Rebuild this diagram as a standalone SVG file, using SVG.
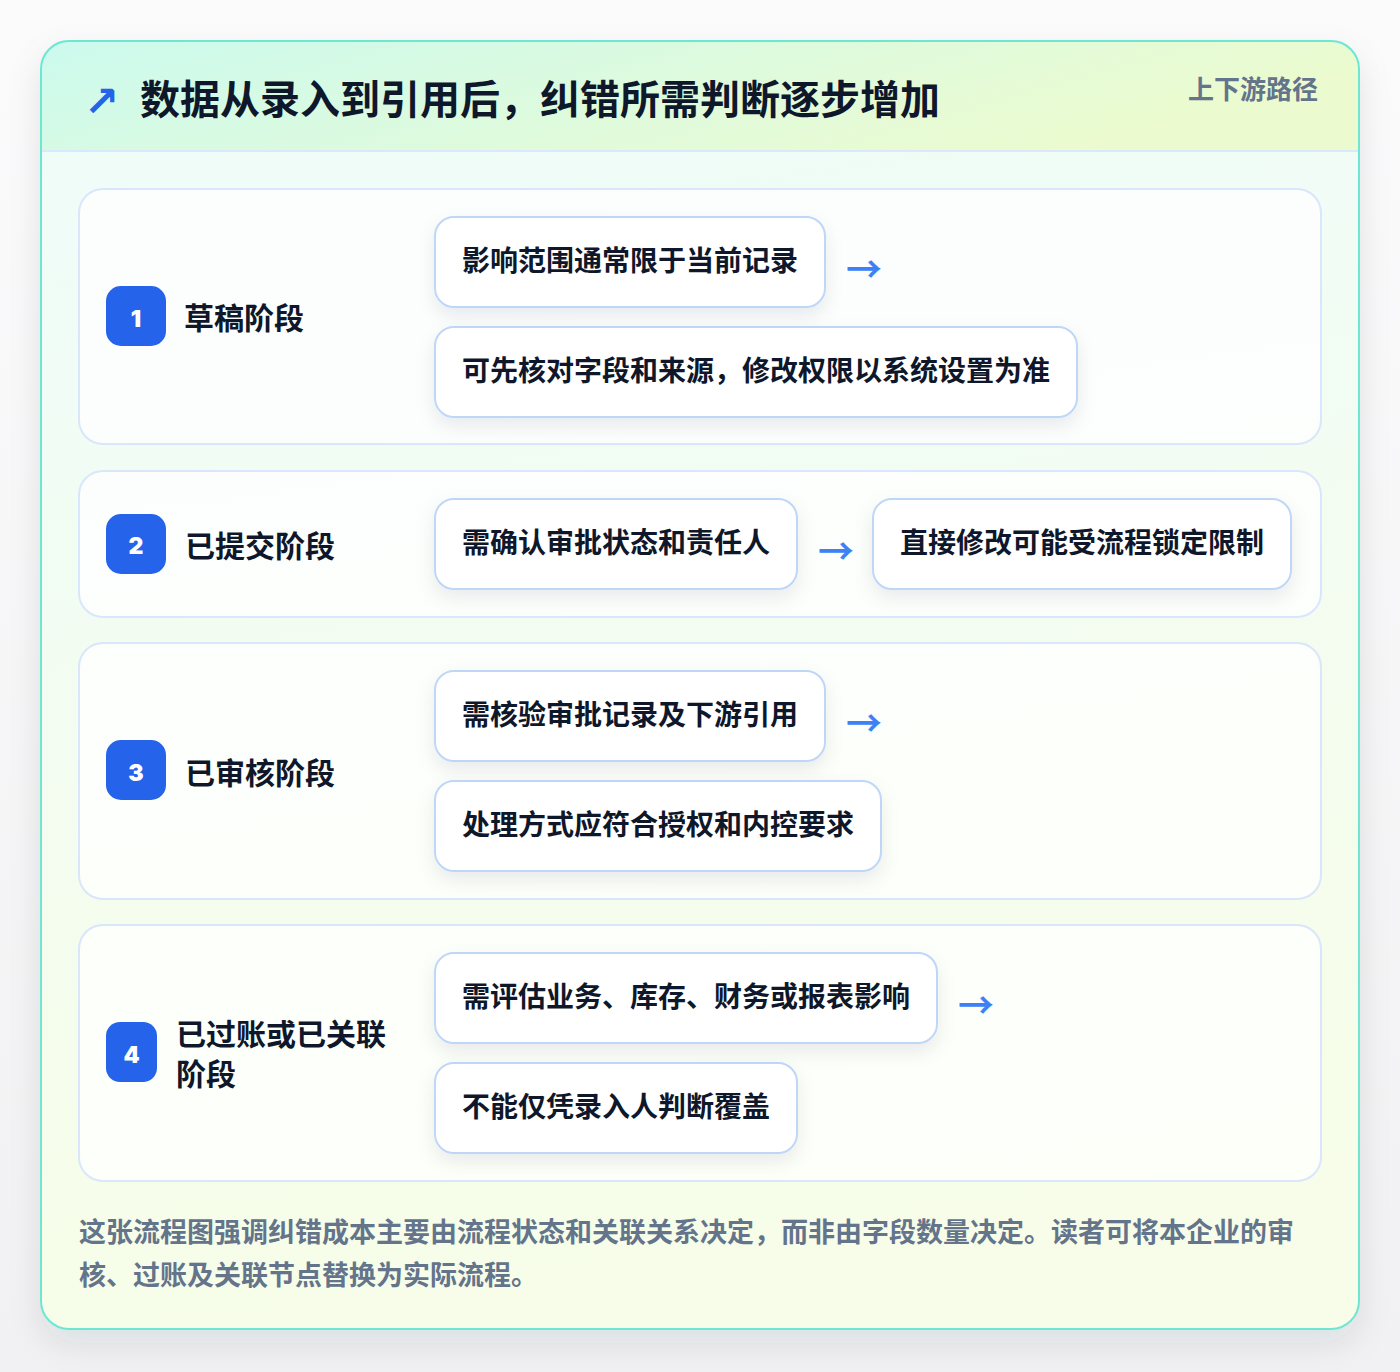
<svg xmlns="http://www.w3.org/2000/svg" width="1400" height="1372" viewBox="0 0 1400 1372">
<defs>
  <linearGradient id="pageBg" x1="0" y1="0" x2="0" y2="1">
    <stop offset="0" stop-color="#fbfbfc"/>
    <stop offset="1" stop-color="#f1f1f3"/>
  </linearGradient>
  <linearGradient id="cardBg" x1="0" y1="0" x2="0.15" y2="1">
    <stop offset="0" stop-color="#eefcfa"/>
    <stop offset="1" stop-color="#f7fde8"/>
  </linearGradient>
  <linearGradient id="headBg" x1="0" y1="0" x2="1" y2="0.3">
    <stop offset="0" stop-color="#ccfaee"/>
    <stop offset="1" stop-color="#ecfbcf"/>
  </linearGradient>
  <clipPath id="cardClip">
    <rect x="41" y="41" width="1318" height="1288" rx="28"/>
  </clipPath>
  <filter id="cardShadow" x="-10%" y="-10%" width="120%" height="125%">
    <feDropShadow dx="0" dy="14" stdDeviation="16" flood-color="#1e293b" flood-opacity="0.10"/>
  </filter>
  <filter id="boxShadow" x="-10%" y="-20%" width="125%" height="160%">
    <feDropShadow dx="0" dy="8" stdDeviation="9" flood-color="#1e293b" flood-opacity="0.08"/>
  </filter>
  <style>
    text { font-family: "Noto Sans CJK SC", "Noto Sans", sans-serif; font-weight: 700; }
    .title { font-size: 40px; fill: #0f172a; }
    .tag { font-size: 26px; fill: #64748b; }
    .stage { fill: #ffffff; fill-opacity: 0.72; stroke: #d9e6fb; stroke-width: 2; }
    .badge { fill: #2563eb; }
    .num { font-family: "Inter", "Noto Sans", sans-serif; font-size: 23px; font-weight: 900; fill: #ffffff; }
    .label { font-size: 30px; fill: #0f172a; }
    .box { fill: #ffffff; stroke: #bfd7f7; stroke-width: 2; }
    .boxText { font-size: 28px; fill: #0f172a; }
    .arrow { font-size: 36px; fill: #3b82f6; font-weight: 700; }
    .foot { font-size: 27px; fill: #64748b; }
  </style>
</defs>

<rect x="0" y="0" width="1400" height="1372" fill="url(#pageBg)"/>

<g id="card">
  <rect x="41" y="41" width="1318" height="1288" rx="28" fill="url(#cardBg)" filter="url(#cardShadow)"/>
  <g clip-path="url(#cardClip)">
    <rect x="41" y="41" width="1318" height="110" fill="url(#headBg)"/>
    <line x1="41" y1="151" x2="1359" y2="151" stroke="#dbe7fb" stroke-width="2"/>
  </g>
  <rect x="41" y="41" width="1318" height="1288" rx="28" fill="none" stroke="#6ee7d2" stroke-width="2"/>
</g>

<g id="header">
  <text x="84" y="116" font-size="42" fill="#2563eb" style="font-family: 'DejaVu Sans', sans-serif; font-weight: 700;">↗</text>
  <text class="title" x="140" y="114">数据从录入到引用后，纠错所需判断逐步增加</text>
  <text class="tag" x="1318" y="99" text-anchor="end">上下游路径</text>
</g>

<g id="stage1">
  <rect class="stage" x="79" y="189" width="1242" height="255" rx="24"/>
  <rect class="badge" x="106" y="286" width="60" height="60" rx="15"/>
  <text class="num" x="136" y="327" text-anchor="middle">1</text>
  <text class="label" x="184" y="329">草稿阶段</text>
  <g id="s1a">
    <rect class="box" x="435" y="217" width="390" height="90" rx="19" filter="url(#boxShadow)"/>
    <text class="boxText" x="462" y="271">影响范围通常限于当前记录</text>
  </g>
  <g id="s1b">
    <rect class="box" x="435" y="327" width="642" height="90" rx="19" filter="url(#boxShadow)"/>
    <text class="boxText" x="462" y="381">可先核对字段和来源，修改权限以系统设置为准</text>
  </g>
</g>

<g id="stage2">
  <rect class="stage" x="79" y="471" width="1242" height="146" rx="24"/>
  <rect class="badge" x="106" y="514" width="60" height="60" rx="15"/>
  <text class="num" x="136" y="554" text-anchor="middle">2</text>
  <text class="label" x="185" y="557">已提交阶段</text>
  <g id="s2a">
    <rect class="box" x="435" y="499" width="362" height="90" rx="19" filter="url(#boxShadow)"/>
    <text class="boxText" x="462" y="553">需确认审批状态和责任人</text>
  </g>
  <g id="s2b">
    <rect class="box" x="873" y="499" width="418" height="90" rx="19" filter="url(#boxShadow)"/>
    <text class="boxText" x="900" y="553">直接修改可能受流程锁定限制</text>
  </g>
</g>

<g id="stage3">
  <rect class="stage" x="79" y="643" width="1242" height="256" rx="24"/>
  <rect class="badge" x="106" y="740" width="60" height="60" rx="15"/>
  <text class="num" x="136" y="781" text-anchor="middle">3</text>
  <text class="label" x="185" y="784">已审核阶段</text>
  <g id="s3a">
    <rect class="box" x="435" y="671" width="390" height="90" rx="19" filter="url(#boxShadow)"/>
    <text class="boxText" x="462" y="725">需核验审批记录及下游引用</text>
  </g>
  <g id="s3b">
    <rect class="box" x="435" y="781" width="446" height="90" rx="19" filter="url(#boxShadow)"/>
    <text class="boxText" x="462" y="835">处理方式应符合授权和内控要求</text>
  </g>
</g>

<g id="stage4">
  <rect class="stage" x="79" y="925" width="1242" height="256" rx="24"/>
  <rect class="badge" x="106" y="1022" width="51" height="60" rx="14"/>
  <text class="num" x="131.5" y="1063" text-anchor="middle">4</text>
  <text class="label" x="176" y="1045">已过账或已关联</text>
  <text class="label" x="176" y="1085">阶段</text>
  <g id="s4a">
    <rect class="box" x="435" y="953" width="502" height="90" rx="19" filter="url(#boxShadow)"/>
    <text class="boxText" x="462" y="1007">需评估业务、库存、财务或报表影响</text>
  </g>
  <g id="s4b">
    <rect class="box" x="435" y="1063" width="362" height="90" rx="19" filter="url(#boxShadow)"/>
    <text class="boxText" x="462" y="1117">不能仅凭录入人判断覆盖</text>
  </g>
</g>

<g id="connectors">
  <text class="arrow" x="846" y="267" dominant-baseline="central">→</text>
  <text class="arrow" x="818" y="549" dominant-baseline="central">→</text>
  <text class="arrow" x="846" y="721" dominant-baseline="central">→</text>
  <text class="arrow" x="958" y="1003" dominant-baseline="central">→</text>
</g>

<g id="footer">
  <text class="foot" x="79" y="1242">这张流程图强调纠错成本主要由流程状态和关联关系决定，而非由字段数量决定。读者可将本企业的审</text>
  <text class="foot" x="79" y="1285">核、过账及关联节点替换为实际流程。</text>
</g>
</svg>
